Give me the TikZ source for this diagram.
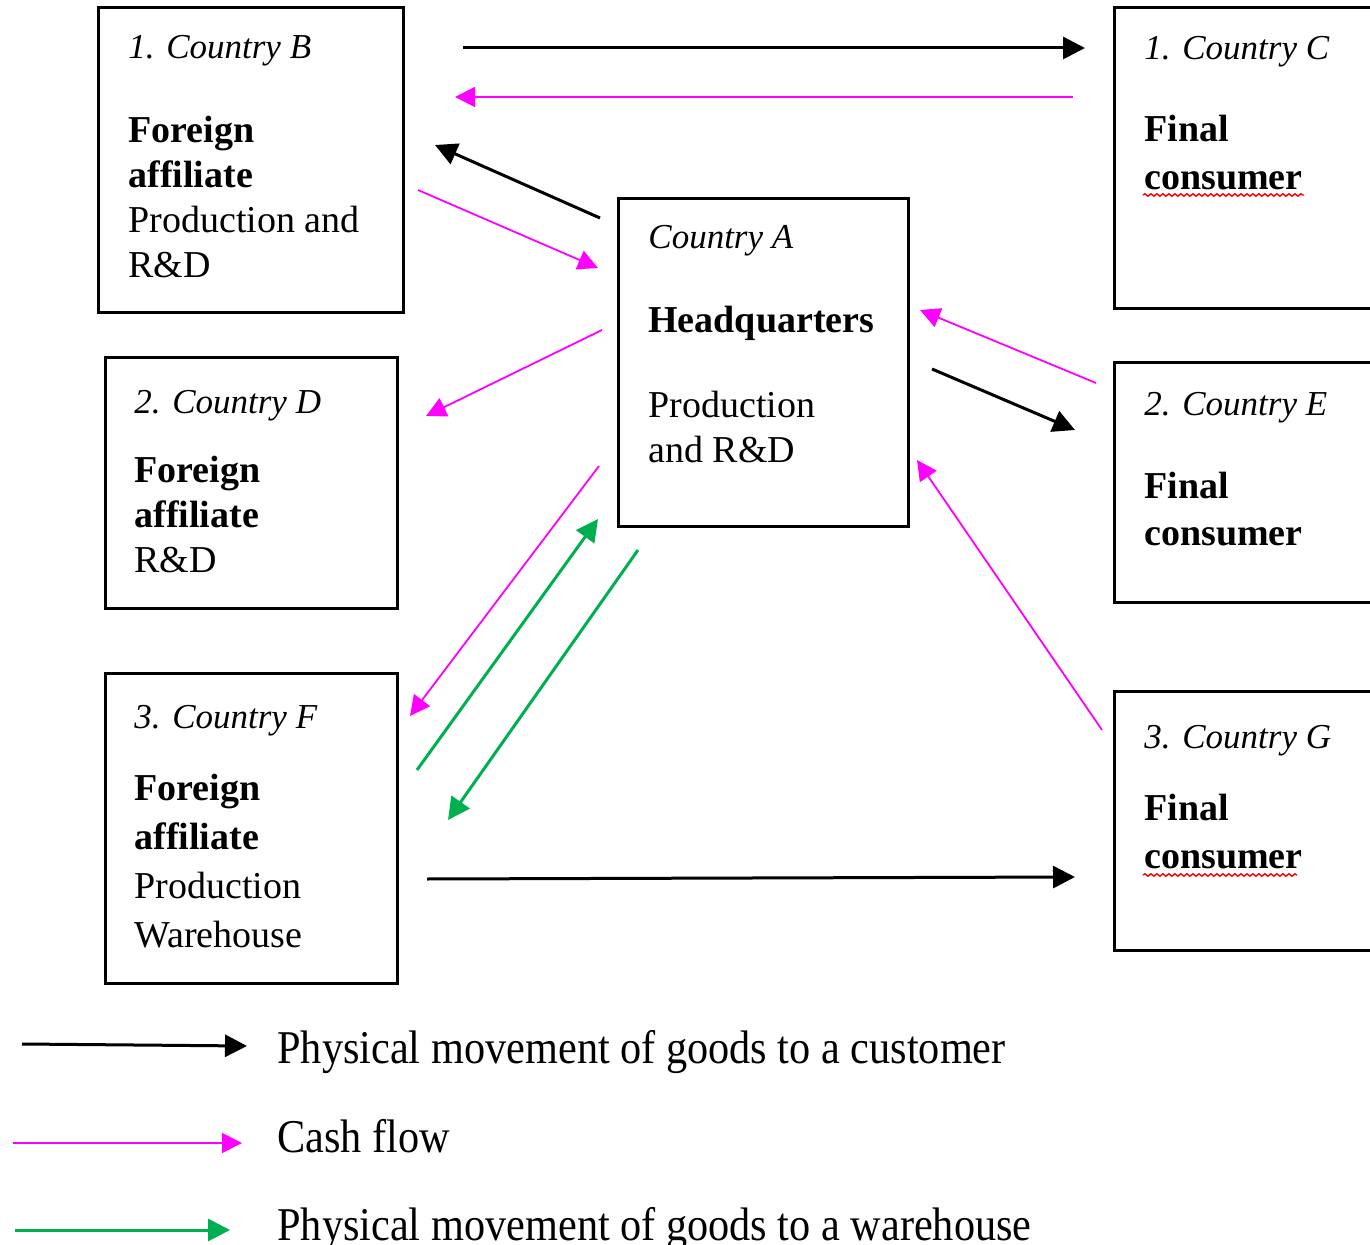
\documentclass[tikz,border=0pt]{standalone}
\usepackage{fontspec}
\setmainfont{Liberation Serif}
\newfontfamily\legendfont[FakeStretch=0.9]{Liberation Serif}
\usetikzlibrary{arrows.meta}
\usetikzlibrary{decorations.pathmorphing}

\definecolor{cashpink}{RGB}{255,0,255}
\definecolor{stockgreen}{RGB}{0,176,80}

\newcommand{\boxlines}[1]{\begin{tabular}[t]{@{}l@{}}#1\end{tabular}}
\newcommand{\ctry}[1]{{\fontsize{17.5}{20}\selectfont\itshape #1}}

\tikzset{
    cbox/.style={rectangle, draw, line width=1.5pt, inner sep=0pt},
    ctext/.style={anchor=base west, inner sep=0pt, font=\fontsize{19}{22.5}\selectfont},
    ltext/.style={anchor=base west, inner sep=0pt, font=\legendfont\fontsize{23.5}{28}\selectfont},
    goods/.style={-{Triangle[length=11pt, width=11pt]}, line width=1.5pt},
    cash/.style={-{Triangle[length=10pt, width=10pt]}, cashpink, line width=0.9pt},
    stock/.style={-{Triangle[length=11pt, width=11pt]}, stockgreen, line width=1.5pt},
    spell/.style={red, line width=0.7pt, decorate, decoration={snake, segment length=3pt, amplitude=0.6pt}}
}

\begin{document}
\begin{tikzpicture}[x=0.5pt, y=-0.5pt]
        \useasboundingbox (0, 0) rectangle (1370, 1245);

        \node[cbox, minimum width=152.5pt, minimum height=152.5pt] (countryB) at (250.5, 160.5) {};
        \node[cbox, minimum width=133pt, minimum height=150.5pt] (countryC) at (1247, 158.5) {};
        \node[cbox, minimum width=145pt, minimum height=164pt] (countryA) at (763, 363) {};
        \node[cbox, minimum width=146pt, minimum height=125pt] (countryD) at (251, 483) {};
        \node[cbox, minimum width=133pt, minimum height=119.5pt] (countryE) at (1247, 482.5) {};
        \node[cbox, minimum width=146pt, minimum height=155pt] (countryF) at (251, 828) {};
        \node[cbox, minimum width=133pt, minimum height=129.5pt] (countryG) at (1247, 820.5) {};

        \node[ctext] (textB) at (128, 59) {\boxlines{\ctry{1. Country B}\\[19.5pt] \textbf{Foreign}\\ \textbf{affiliate}\\ Production and\\ R\&D}};
        \node[ctext, font=\fontsize{19}{24}\selectfont] (textC) at (1144, 60) {\boxlines{\ctry{1. Country C}\\[17pt] \textbf{Final}\\ \textbf{consumer}}};
        \node[ctext] (textA) at (648, 249) {\boxlines{\ctry{Country A}\\[19.5pt] \textbf{Headquarters}\\[20pt] Production\\ and R\&D}};
        \node[ctext] (textD) at (134, 414) {\boxlines{\ctry{2. Country D}\\[12pt] \textbf{Foreign}\\ \textbf{affiliate}\\ R\&D}};
        \node[ctext, font=\fontsize{19}{23.5}\selectfont] (textE) at (1144, 416) {\boxlines{\ctry{2. Country E}\\[18pt] \textbf{Final}\\ \textbf{consumer}}};
        \node[ctext, font=\fontsize{19}{24.5}\selectfont] (textF) at (134, 728) {\boxlines{\ctry{3. Country F}\\[11.5pt] \textbf{Foreign}\\ \textbf{affiliate}\\ Production\\ Warehouse}};
        \node[ctext, font=\fontsize{19}{24}\selectfont] (textG) at (1144, 748) {\boxlines{\ctry{3. Country G}\\[12pt] \textbf{Final}\\ \textbf{consumer}}};

        \draw[spell] (1143, 195) -- (1304, 195);
        \draw[spell] (1143, 875) -- (1297, 875);

        \coordinate (bc1) at (463, 48);
        \coordinate (bc2) at (1085, 48);
        \coordinate (cb1) at (1073, 97);
        \coordinate (cb2) at (455, 97);
        \coordinate (ab1) at (600, 218);
        \coordinate (ab2) at (435, 145);
        \coordinate (ba1) at (418, 190);
        \coordinate (ba2) at (598, 268);
        \coordinate (ad1) at (602, 330);
        \coordinate (ad2) at (426, 416);
        \coordinate (ea1) at (1096, 383);
        \coordinate (ea2) at (920, 310);
        \coordinate (ae1) at (932, 369);
        \coordinate (ae2) at (1075, 430);
        \coordinate (ga1) at (1102, 730);
        \coordinate (ga2) at (917, 460);
        \coordinate (af1) at (599, 466);
        \coordinate (af2) at (410, 716);
        \coordinate (fa1) at (417, 770);
        \coordinate (fa2) at (598, 519);
        \coordinate (af3) at (638, 550);
        \coordinate (af4) at (448, 820);
        \coordinate (fg1) at (427, 879);
        \coordinate (fg2) at (1075, 877);

        \draw[goods] (bc1) -- (bc2);
        \draw[cash] (cb1) -- (cb2);
        \draw[goods] (ab1) -- (ab2);
        \draw[cash] (ba1) -- (ba2);
        \draw[cash] (ad1) -- (ad2);
        \draw[cash] (ea1) -- (ea2);
        \draw[goods] (ae1) -- (ae2);
        \draw[cash] (ga1) -- (ga2);
        \draw[cash] (af1) -- (af2);
        \draw[stock] (fa1) -- (fa2);
        \draw[stock] (af3) -- (af4);
        \draw[goods] (fg1) -- (fg2);

        \coordinate (key1a) at (22, 1044);
        \coordinate (key1b) at (247, 1046);
        \coordinate (key2a) at (13, 1143);
        \coordinate (key2b) at (242, 1143);
        \coordinate (key3a) at (15, 1230);
        \coordinate (key3b) at (230, 1230);

        \draw[goods] (key1a) -- (key1b);
        \draw[cash] (key2a) -- (key2b);
        \draw[stock] (key3a) -- (key3b);

        \node[ltext] (keygoods) at (277, 1063) {Physical movement of goods to a customer};
        \node[ltext] (keycash) at (277, 1152) {Cash flow};
        \node[ltext] (keystock) at (277, 1240) {Physical movement of goods to a warehouse};
    \end{tikzpicture}
\end{document}
